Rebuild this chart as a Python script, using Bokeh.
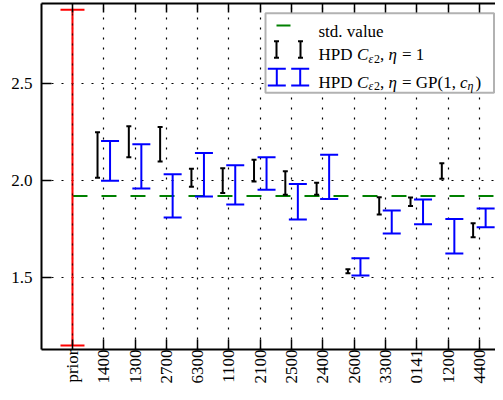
import math
from bokeh.plotting import figure
from bokeh.models import (ColumnDataSource, Whisker, TeeHead, FixedTicker, LinearAxis,
                          Range1d, Label, BoxAnnotation, Span)
from bokeh.embed import file_html
from bokeh.resources import INLINE

categories = ["prior", "1400", "1300", "2700", "6300", "1100", "2100", "2500",
              "2400", "2600", "3300", "0141", "1200", "4400"]
prior_bounds = [1.15, 2.88]
std_value = 1.92
eta1_lower = [2.014, 2.120, 2.098, 1.968, 1.935, 1.995, 1.927, 1.926, 1.522, 1.825, 1.868, 2.009, 1.708]
eta1_upper = [2.249, 2.280, 2.275, 2.060, 2.063, 2.107, 2.048, 1.988, 1.543, 1.914, 1.912, 2.089, 1.780]
etagp_lower = [1.998, 1.959, 1.809, 1.918, 1.876, 1.952, 1.799, 1.904, 1.510, 1.727, 1.775, 1.624, 1.759]
etagp_upper = [2.203, 2.187, 2.032, 2.141, 2.079, 2.120, 1.982, 2.132, 1.599, 1.845, 1.902, 1.801, 1.856]
y_ticks = [1.5, 2.0, 2.5]
y_tick_labels = ["1.5", "2.0", "2.5"]

FONT = "Liberation Serif"
FS = "17px"

p = figure(width=495, height=392, output_backend="svg", toolbar_location=None,
           x_range=Range1d(-0.99, 13.515), y_range=Range1d(1.129, 2.912),
           min_border_left=41, min_border_right=0, min_border_top=3, min_border_bottom=43)
p.outline_line_color = None
p.background_fill_color = "white"
p.border_fill_color = "white"

xt = FixedTicker(ticks=list(range(len(categories))))
yt = FixedTicker(ticks=y_ticks)

for ax in (p.xaxis[0], p.yaxis[0]):
    ax.axis_line_width = 2
    ax.axis_line_color = "black"
    ax.major_tick_in = 10
    ax.major_tick_out = 0
    ax.major_tick_line_color = "black"
    ax.major_tick_line_width = 1.5
    ax.minor_tick_line_color = None
    ax.major_label_text_font = FONT
    ax.major_label_text_font_size = FS
    ax.major_label_text_color = "black"

p.xaxis.ticker = xt
p.xaxis.major_label_overrides = {i: c for i, c in enumerate(categories)}
p.xaxis.major_label_orientation = math.pi / 2
p.xaxis.major_label_standoff = 0
p.yaxis.ticker = yt
p.yaxis.major_label_overrides = {t: l for t, l in zip(y_ticks, y_tick_labels)}
p.yaxis.major_label_standoff = 9

top = LinearAxis(ticker=xt, major_label_text_color=None, major_label_standoff=0,
                 major_tick_in=9, major_tick_out=0, minor_tick_line_color=None,
                 axis_line_width=2, axis_line_color="black", major_tick_line_width=1.5)
p.add_layout(top, "above")

for g, t in ((p.xgrid, xt), (p.ygrid, yt)):
    g.ticker = t
    g.grid_line_color = "black"
    g.grid_line_dash = "2 8"
    g.grid_line_width = 1.2

# prior
prior_src = ColumnDataSource(dict(x=[0], lower=[prior_bounds[0]], upper=[prior_bounds[1]]))
p.add_layout(Whisker(source=prior_src, base="x", lower="lower", upper="upper", dimension="height",
                     line_color="red", line_width=2, level="glyph",
                     upper_head=TeeHead(size=24, line_color="red", line_width=2),
                     lower_head=TeeHead(size=24, line_color="red", line_width=2)))
p.add_layout(Span(location=0, dimension="height", line_color="black", line_dash="2 8",
                  line_width=1.2, line_alpha=0.7, level="glyph"))

# std value
p.ray(x=[0], y=[std_value], length=0, angle=0, line_color="green", line_width=2,
      line_dash="15 14")

idx = list(range(1, len(categories)))
src1 = ColumnDataSource(dict(x=[i - 0.2 for i in idx], lower=eta1_lower, upper=eta1_upper))
src2 = ColumnDataSource(dict(x=[i + 0.2 for i in idx], lower=etagp_lower, upper=etagp_upper))
p.add_layout(Whisker(source=src1, base="x", lower="lower", upper="upper", dimension="height",
                     line_color="black", line_width=2, level="glyph",
                     upper_head=TeeHead(size=5, line_color="black", line_width=2),
                     lower_head=TeeHead(size=5, line_color="black", line_width=2)))
p.add_layout(Whisker(source=src2, base="x", lower="lower", upper="upper", dimension="height",
                     line_color="blue", line_width=2, level="glyph",
                     upper_head=TeeHead(size=18, line_color="blue", line_width=2),
                     lower_head=TeeHead(size=18, line_color="blue", line_width=2)))

# ---- legend (screen units relative to frame bottom-left) ----
FL, FB = 41, 349
def sx(px):
    return px - FL
def sy(py):
    return FB - py

p.add_layout(BoxAnnotation(left=sx(265), right=sx(493.5), top=sy(12.7), bottom=sy(92.3),
                           left_units="screen", right_units="screen", top_units="screen",
                           bottom_units="screen", fill_color="white", fill_alpha=1,
                           line_color="black", line_width=2, level="overlay"))
p.add_layout(BoxAnnotation(left=sx(276), right=sx(290), top=sy(24), bottom=sy(26),
                           left_units="screen", right_units="screen", top_units="screen",
                           bottom_units="screen", fill_color="green", fill_alpha=1,
                           line_color=None, level="overlay"))
leg1 = ColumnDataSource(dict(x=[sx(276), sx(300)], lower=[sy(57.3)] * 2, upper=[sy(40.7)] * 2))
leg2 = ColumnDataSource(dict(x=[sx(276.3), sx(299.7)], lower=[sy(85)] * 2, upper=[sy(68.3)] * 2))
for src, col, sz in ((leg1, "black", 5), (leg2, "blue", 18)):
    p.add_layout(Whisker(source=src, base="x", lower="lower", upper="upper", dimension="height",
                         base_units="screen", lower_units="screen", upper_units="screen",
                         line_color=col, line_width=2, level="overlay",
                         upper_head=TeeHead(size=sz, line_color=col, line_width=2),
                         lower_head=TeeHead(size=sz, line_color=col, line_width=2)))

def lab(px, py, text, style="normal", size=FS):
    p.add_layout(Label(x=sx(px), y=sy(py), x_units="screen", y_units="screen", text=text,
                       text_font=FONT, text_font_size=size, text_font_style=style,
                       text_color="black", text_baseline="alphabetic", text_align="left",
                       level="overlay"))

lab(318, 31, "std. value")
for base in (54, 81.7):
    lab(318, base, "HPD")
    lab(356.5, base, "C", "italic")
    lab(368, base + 4, "ε", "italic", "12px")
    lab(373.5, base + 4, "2", "normal", "12px")
    lab(379.5, base, ",")
    lab(388, base, "η", "italic")
lab(401.5, 54, "= 1")
lab(401.5, 81.7, "= GP(1,")
lab(459.5, 81.7, "c", "italic")
lab(467, 85.7, "η", "italic", "12px")
lab(475, 81.7, ")")

open("out.html", "w").write(file_html(p, INLINE))
